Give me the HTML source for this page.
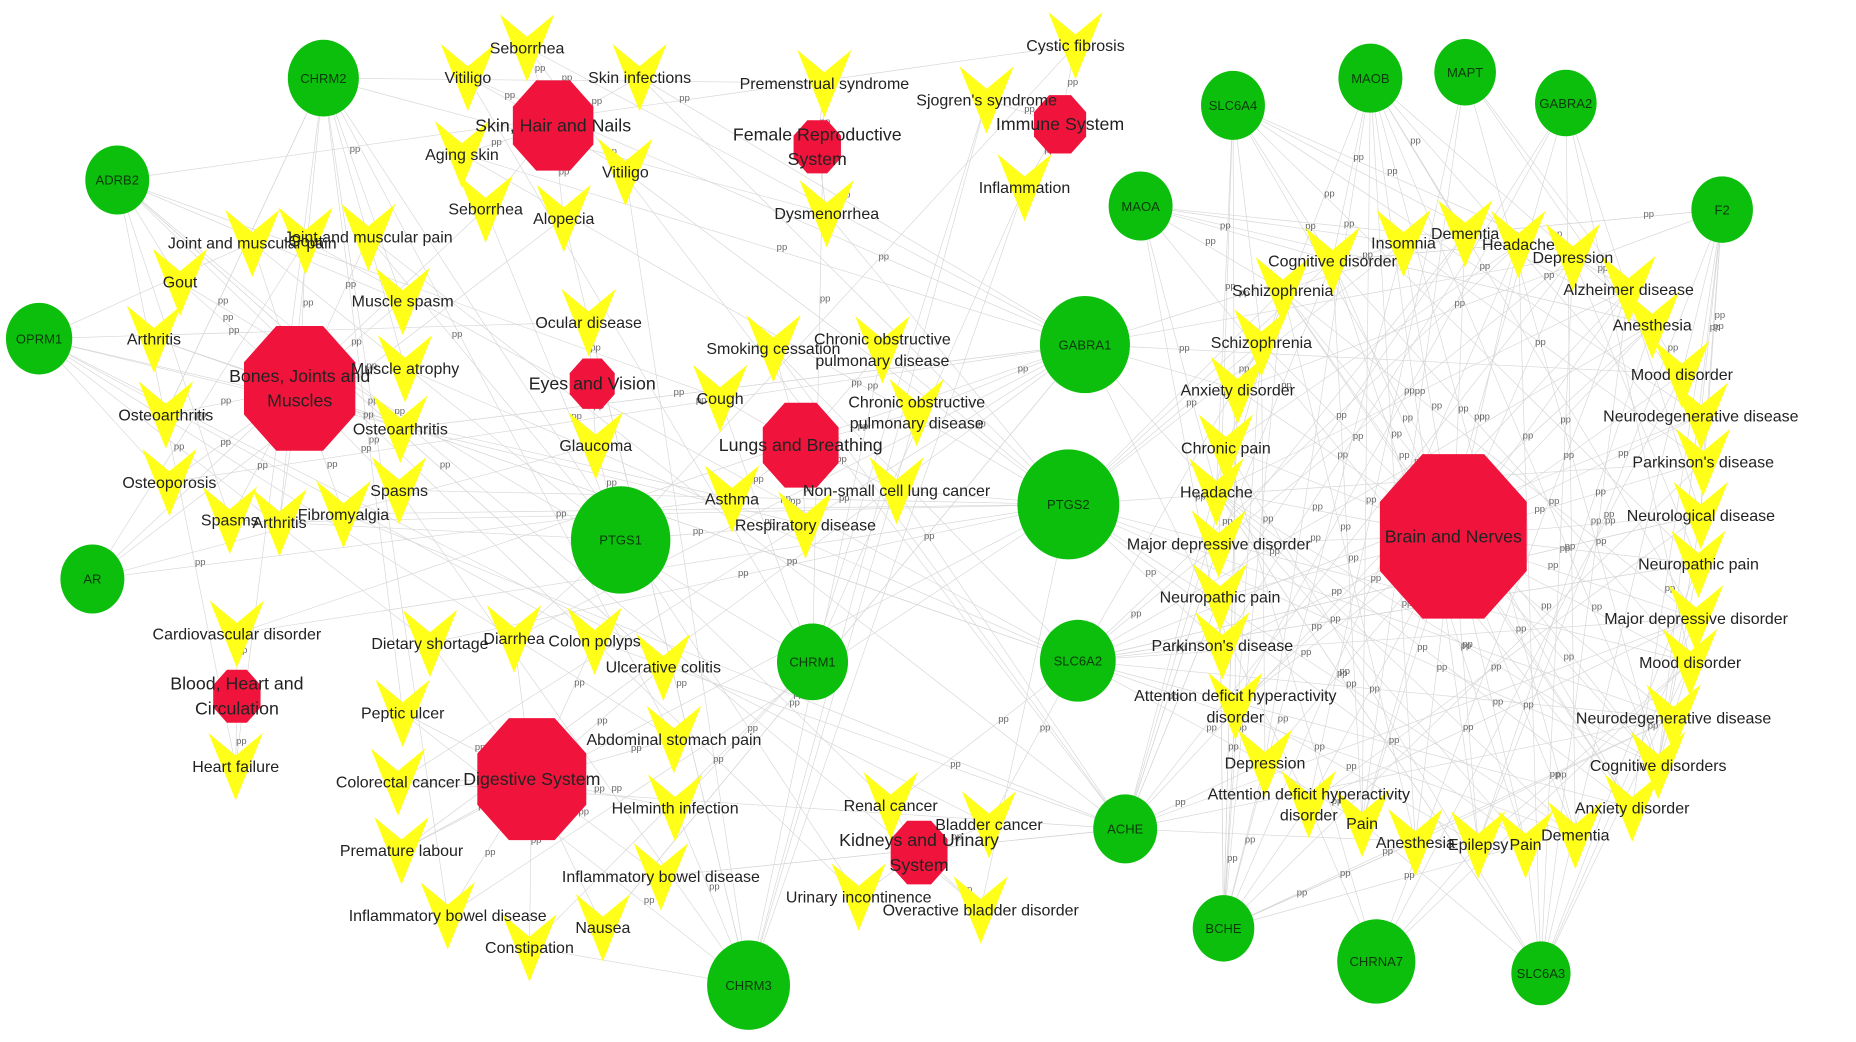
<!DOCTYPE html>
<html><head><meta charset="utf-8">
<style>html,body{margin:0;padding:0;background:#fff;width:1856px;height:1042px;overflow:hidden}
svg{display:block}text{font-family:"Liberation Sans",Arial,sans-serif}</style></head>
<body>
<svg id="s" width="1856" height="1042" viewBox="0 0 1567 880" preserveAspectRatio="none" xmlns="http://www.w3.org/2000/svg">
<g id="e"></g><g id="p"></g><g id="n"></g><g id="t"></g>
</svg>
<script>
var NS="http://www.w3.org/2000/svg";
function el(g,tag,a,txt){var x=document.createElementNS(NS,tag);for(var k in a)x.setAttribute(k,a[k]);if(txt!==undefined)x.textContent=txt;document.getElementById(g).appendChild(x);return x;}
var G={CHRM2:[273,66,30],ADRB2:[99,152,27],OPRM1:[33,286,28],AR:[78,489,27],PTGS1:[524,456,42],CHRM1:[686,559,30],CHRM3:[632,832,35],GABRA1:[916,291,38],PTGS2:[902,426,43],SLC6A2:[910,558,32],ACHE:[950,700,27],BCHE:[1033,784,26],CHRNA7:[1162,812,33],SLC6A3:[1301,822,25],SLC6A4:[1041,89,27],MAOA:[963,174,27],MAOB:[1157,66,27],MAPT:[1237,61,26],GABRA2:[1322,87,26],F2:[1454,177,26]};
var H={skin:[467,106,34,["Skin, Hair and Nails"]],fem:[690,124,20,["Female Reproductive","System"]],imm:[895,105,22,["Immune System"]],bone:[253,328,47,["Bones, Joints and","Muscles"]],eye:[500,324,19,["Eyes and Vision"]],lung:[676,376,32,["Lungs and Breathing"]],blood:[200,588,20,["Blood, Heart and","Circulation"]],dig:[449,658,46,["Digestive System"]],kid:[776,720,24,["Kidneys and Urinary","System"]],brain:[1227,453,62,["Brain and Nerves"]]};
var Y=[
["skin",445,40,"Seborrhea"],["skin",395,65,"Vitiligo"],["skin",540,65,"Skin infections"],["skin",390,130,"Aging skin"],["skin",528,145,"Vitiligo"],["skin",410,176,"Seborrhea"],["skin",476,184,"Alopecia"],
["fem",696,70,"Premenstrual syndrome"],["fem",698,180,"Dysmenorrhea"],
["imm",908,38,"Cystic fibrosis"],["imm",833,84,"Sjogren's syndrome"],["imm",865,158,"Inflammation"],
["bone",213,205,"Joint and muscular pain"],["bone",258,203,"Gout"],["bone",311,200,"Joint and muscular pain"],["bone",152,238,"Gout"],["bone",130,286,"Arthritis"],["bone",140,350,"Osteoarthritis"],["bone",143,407,"Osteoporosis"],["bone",194,439,"Spasms"],["bone",236,441,"Arthritis"],["bone",290,434,"Fibromyalgia"],["bone",337,414,"Spasms"],["bone",340,254,"Muscle spasm"],["bone",342,311,"Muscle atrophy"],["bone",338,362,"Osteoarthritis"],
["eye",497,272,"Ocular disease"],["eye",503,376,"Glaucoma"],
["lung",653,294,"Smoking cessation"],["lung",745,295,"Chronic obstructive|pulmonary disease"],["lung",608,336,"Cough"],["lung",774,348,"Chronic obstructive|pulmonary disease"],["lung",618,421,"Asthma"],["lung",680,443,"Respiratory disease"],["lung",757,414,"Non-small cell lung cancer"],
["blood",200,535,"Cardiovascular disorder"],["blood",199,647,"Heart failure"],
["dig",363,543,"Dietary shortage"],["dig",434,539,"Diarrhea"],["dig",502,541,"Colon polyps"],["dig",560,563,"Ulcerative colitis"],["dig",340,602,"Peptic ulcer"],["dig",569,624,"Abdominal stomach pain"],["dig",336,660,"Colorectal cancer"],["dig",570,682,"Helminth infection"],["dig",339,718,"Premature labour"],["dig",558,740,"Inflammatory bowel disease"],["dig",378,773,"Inflammatory bowel disease"],["dig",509,783,"Nausea"],["dig",447,800,"Constipation"],
["kid",752,680,"Renal cancer"],["kid",835,696,"Bladder cancer"],["kid",725,757,"Urinary incontinence"],["kid",828,768,"Overactive bladder disorder"],
["brain",1125,220,"Cognitive disorder"],["brain",1083,245,"Schizophrenia"],["brain",1065,289,"Schizophrenia"],["brain",1045,329,"Anxiety disorder"],["brain",1035,378,"Chronic pain"],["brain",1027,415,"Headache"],["brain",1029,459,"Major depressive disorder"],["brain",1030,504,"Neuropathic pain"],["brain",1032,545,"Parkinson's disease"],["brain",1043,596,"Attention deficit hyperactivity|disorder"],["brain",1068,644,"Depression"],["brain",1105,679,"Attention deficit hyperactivity|disorder"],["brain",1150,695,"Pain"],["brain",1195,711,"Anesthesia"],["brain",1248,713,"Epilepsy"],["brain",1288,713,"Pain"],["brain",1330,705,"Dementia"],["brain",1378,682,"Anxiety disorder"],["brain",1400,646,"Cognitive disorders"],["brain",1413,606,"Neurodegenerative disease"],["brain",1427,559,"Mood disorder"],["brain",1432,522,"Major depressive disorder"],["brain",1434,476,"Neuropathic pain"],["brain",1436,435,"Neurological disease"],["brain",1438,390,"Parkinson's disease"],["brain",1436,351,"Neurodegenerative disease"],["brain",1420,316,"Mood disorder"],["brain",1395,274,"Anesthesia"],["brain",1375,244,"Alzheimer disease"],["brain",1328,217,"Depression"],["brain",1282,206,"Headache"],["brain",1237,197,"Dementia"],["brain",1185,205,"Insomnia"]];
var seed=7;function rnd(){seed=(seed*16807)%2147483647;return seed/2147483647;}
function line(a,b,pp){el("e","line",{x1:a[0],y1:a[1],x2:b[0],y2:b[1],stroke:"#d6d6d6","stroke-width":0.55});
 if(pp){var f=0.3+rnd()*0.4;el("p","text",{x:a[0]+(b[0]-a[0])*f,y:a[1]+(b[1]-a[1])*f,"font-size":8,fill:"#666"},"pp");}}
var left=["CHRM2","ADRB2","OPRM1","AR","PTGS1","CHRM1","CHRM3","PTGS2","GABRA1","SLC6A2","ACHE"];
var right=["SLC6A4","MAOA","MAOB","MAPT","GABRA2","F2","GABRA1","PTGS2","SLC6A2","ACHE","BCHE","CHRNA7","SLC6A3"];
Y.forEach(function(y){var h=H[y[0]];line([y[1],y[2]],[h[0],h[1]],true);
 var pool=y[0]=="brain"?right:left;var n=y[0]=="brain"?4:2;
 for(var i=0;i<n;i++){var g=G[pool[Math.floor(rnd()*pool.length)]];line([y[1],y[2]],[g[0],g[1]],rnd()<0.5);}
});
var BR=Y.filter(function(y){return y[0]=="brain";});
for(var i=0;i<40;i++){var a=BR[Math.floor(rnd()*BR.length)],b=BR[Math.floor(rnd()*BR.length)];line([a[1],a[2]],[b[1],b[2]],rnd()<0.5);}
for(var k in G){var g=G[k];el("n","ellipse",{cx:g[0],cy:g[1],rx:g[2],ry:g[2]*1.08,fill:"#0dbf0d"});
 el("t","text",{x:g[0],y:g[1]+4,"font-size":Math.min(11,g[2]*0.42+1),"text-anchor":"middle",fill:"#0a3a0a"},k);}
for(var k in H){var h=H[k],r=h[2],ry=r*1.12,aa=r*0.42,bb=ry*0.42;
 var pts=[[-aa,-ry],[aa,-ry],[r,-bb],[r,bb],[aa,ry],[-aa,ry],[-r,bb],[-r,-bb]].map(function(p){return (h[0]+p[0])+","+(h[1]+p[1]);}).join(" ");
 el("n","polygon",{points:pts,fill:"#f0143c"});
 var L=h[3];L.forEach(function(s,i){el("t","text",{x:h[0],y:h[1]+5+(i-(L.length-1)/2)*21,"font-size":15,"text-anchor":"middle",fill:"#222"},s);});}
Y.forEach(function(y){var x=y[1],c=y[2];
 el("n","polygon",{points:(x-23)+","+(c-28)+" "+x+","+(c-9)+" "+(x+23)+","+(c-28)+" "+x+","+(c+29),fill:"#ffff1a"});
 var L=y[3].split("|");L.forEach(function(s,i){el("t","text",{x:x,y:c+5+(i-(L.length-1)/2)*18,"font-size":13.5,"text-anchor":"middle",fill:"#222"},s);});
});
</script>
</body></html>
